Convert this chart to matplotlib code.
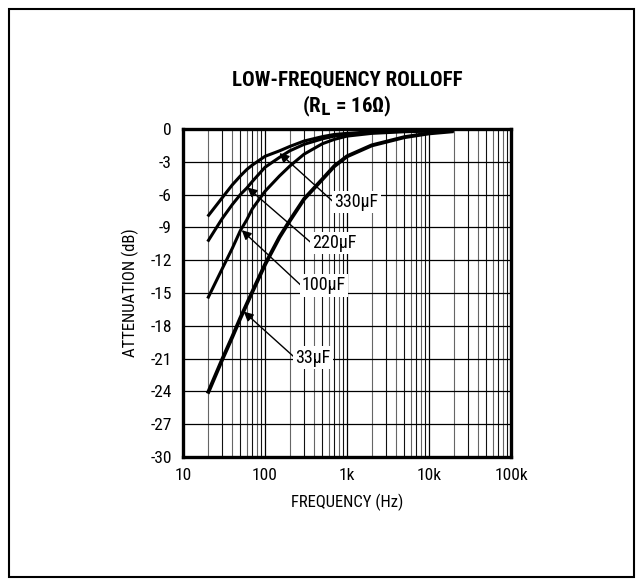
import matplotlib
matplotlib.use("Agg")
import matplotlib.pyplot as plt
from matplotlib.patches import Rectangle
from matplotlib import font_manager
import numpy as np

avail = {f.name for f in font_manager.fontManager.ttflist}
fams = [f for f in ['Liberation Sans Narrow', 'DejaVu Sans Condensed', 'Roboto Condensed',
                    'Liberation Sans'] if f in avail] + ['DejaVu Sans']
plt.rcParams['font.family'] = fams

freq = [20, 30, 40, 50, 60, 70, 100, 150, 200, 300, 500, 700, 1000, 2000, 5000, 10000, 20000]
c330 = [-8.0, -6.3, -5.1, -4.3, -3.7, -3.3, -2.5, -2.0, -1.6, -1.1, -0.7, -0.5, -0.4, -0.25, -0.15, -0.1, -0.1]
c220 = [-10.3, -8.2, -6.9, -6.0, -5.4, -4.8, -3.5, -2.6, -2.0, -1.4, -0.9, -0.65, -0.5, -0.3, -0.2, -0.15, -0.1]
c100 = [-15.5, -12.8, -10.9, -9.3, -8.3, -7.3, -5.7, -4.3, -3.4, -2.3, -1.35, -0.95, -0.65, -0.4, -0.25, -0.2, -0.15]
c33 = [-24.2, -21.1, -19.0, -17.3, -16.0, -14.9, -12.4, -9.9, -8.4, -6.4, -4.6, -3.4, -2.5, -1.5, -0.75, -0.4, -0.2]

labels = ["330\u00b5F", "220\u00b5F", "100\u00b5F", "33\u00b5F"]
arrow_tips = [(150, -2.2), (61, -5.35), (52, -9.25), (55, -16.7)]
arrow_tails = [(690, -6.7), (365, -10.4), (275, -14.3), (230, -20.9)]

xticks = [10, 100, 1000, 10000, 100000]
xticklabels = ["10", "100", "1k", "10k", "100k"]
yticks = list(range(-30, 1, 3))

fig = plt.figure(figsize=(6.42, 5.82), dpi=100)
ax = fig.add_axes([183/642, 1-457/582, (511-183)/642, (457-129)/582])
ax.set_xscale('log')
ax.set_xlim(10, 100000)
ax.set_ylim(-30, 0)

# grid
for dec in [10, 100, 1000, 10000]:
    for m in range(2, 10):
        ax.axvline(dec*m, color='#666666' if m % 2 == 0 else '#111111', lw=0.8, zorder=1)
for d in [100, 1000, 10000]:
    ax.axvline(d, color='black', lw=0.9, zorder=1)
for y in yticks[1:-1]:
    ax.axhline(y, color='black', lw=0.9, zorder=1)

for vals, lw in [(c330, 2.2), (c220, 2.2), (c100, 2.2), (c33, 2.8)]:
    ax.plot(freq, vals, color='black', lw=lw, solid_capstyle='butt',
            solid_joinstyle='round', zorder=3)

for lab, tip, tail in zip(labels, arrow_tips, arrow_tails):
    ax.annotate("", xy=tip, xytext=tail,
                arrowprops=dict(arrowstyle='-|>', color='black', lw=1.0,
                                mutation_scale=14, shrinkA=0, shrinkB=0), zorder=4)
    ax.text(tail[0]*1.02, tail[1], lab, ha='left', va='center', fontsize=13,
            bbox=dict(facecolor='white', edgecolor='none', pad=1.5), zorder=5)

ax.set_xticks(xticks)
ax.set_xticklabels(xticklabels, fontsize=12.5)
ax.set_yticks(yticks)
ax.set_yticklabels([str(v) for v in yticks], fontsize=12.5)
ax.xaxis.set_minor_locator(matplotlib.ticker.NullLocator())
ax.tick_params(length=0, pad=8)
for s in ax.spines.values():
    s.set_linewidth(2.4)
    s.set_zorder(6)

ax.set_xlabel("FREQUENCY (Hz)", fontsize=12, labelpad=8)
ax.set_ylabel("ATTENUATION (dB)", fontsize=12, labelpad=8)

fig.text(347/642, 1-80/582, "LOW-FREQUENCY ROLLOFF", ha='center', va='center',
         fontsize=15, fontweight='bold')
fig.text(347/642, 1-106/582, "(R$_{\\mathbf{L}}$ = 16\u03a9)", ha='center', va='center',
         fontsize=15, fontweight='bold')

fig.patches.append(Rectangle((9/642, 5/582), 625/642, 568/582, transform=fig.transFigure,
                             fill=False, edgecolor='black', lw=1.5))

fig.savefig("out.png", dpi=100)
